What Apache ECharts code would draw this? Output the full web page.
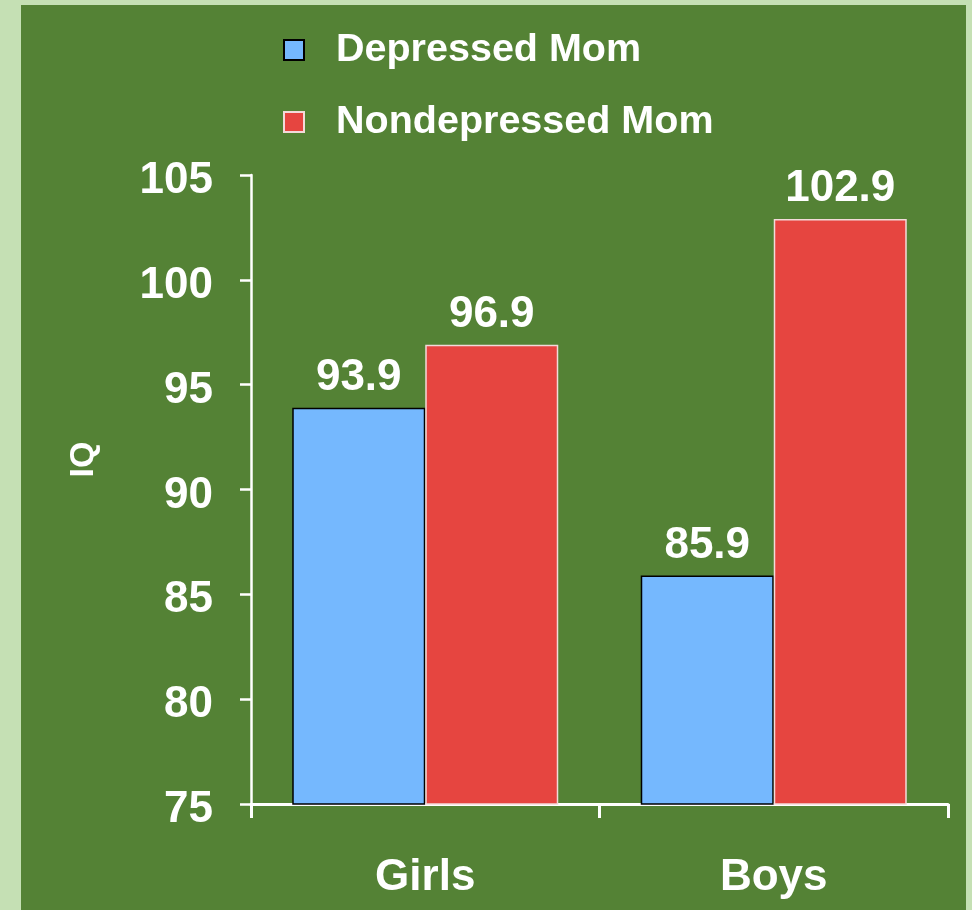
<!DOCTYPE html>
<html>
<head>
<meta charset="utf-8">
<script src="https://cdn.jsdelivr.net/npm/echarts@6/dist/echarts.min.js"></script>
<style>
  html, body { margin: 0; padding: 0; background: #c5e0b4; }
  #chart { position: absolute; left: 21px; top: 5px; width: 945px; height: 905px; }
</style>
</head>
<body>
<div id="chart"></div>
<script>
const categories = ['Girls', 'Boys'];
const depressed = [93.9, 85.9];
const nondepressed = [96.9, 102.9];
const seriesNames = ['Depressed Mom', 'Nondepressed Mom'];

const font = 'Liberation Sans, Arial, sans-serif';

const legendText = { color: '#fff', fontSize: 39.5, fontWeight: 'bold', padding: [0, 0, 0, 27] };

const myChart = echarts.init(document.getElementById('chart'));
const option = {
  backgroundColor: '#548235',
  animation: false,
  textStyle: { fontFamily: font },
  legend: [
    {
      data: [seriesNames[0]],
      left: 262, top: 25, padding: 0,
      itemWidth: 20, itemHeight: 20, itemGap: 0,
      icon: 'rect',
      textStyle: legendText
    },
    {
      data: [seriesNames[1]],
      left: 262, top: 97, padding: 0,
      itemWidth: 20, itemHeight: 20, itemGap: 0,
      icon: 'rect',
      textStyle: legendText
    }
  ],
  grid: { left: 230, right: 18, top: 170, bottom: 106 },
  xAxis: {
    type: 'category',
    data: categories,
    axisLine: { lineStyle: { color: '#fff', width: 3 } },
    axisTick: { show: true, alignWithLabel: false, length: 14, lineStyle: { color: '#fff', width: 3 } },
    axisLabel: { color: '#fff', fontSize: 44, fontWeight: 'bold', margin: 52 }
  },
  yAxis: {
    type: 'value',
    min: 75, max: 105, interval: 5,
    name: 'IQ',
    nameLocation: 'middle',
    nameRotate: 90,
    nameGap: 150,
    nameTextStyle: { color: '#fff', fontSize: 34, fontWeight: 'bold', padding: [0, 0, 0, 60] },
    axisLine: { show: true, lineStyle: { color: '#fff', width: 2.5 } },
    axisTick: { show: true, length: 11, lineStyle: { color: '#fff', width: 2.5 } },
    splitLine: { show: false },
    axisLabel: {
      margin: 38,
      formatter: '{v|{value}}',
      rich: { v: { color: '#fff', fontSize: 44, fontWeight: 'bold', fontFamily: font, padding: [12, 0, 0, 0] } }
    }
  },
  series: [
    {
      name: seriesNames[0],
      type: 'bar',
      data: depressed,
      barWidth: 133,
      barGap: '0%',
      itemStyle: { color: '#75b8fe', borderColor: '#000', borderWidth: 1.5 },
      label: { show: true, position: 'top', distance: 8, color: '#fff', fontSize: 44, fontWeight: 'bold', formatter: p => p.value.toFixed(1) }
    },
    {
      name: seriesNames[1],
      type: 'bar',
      data: nondepressed,
      barWidth: 133,
      barGap: '0%',
      itemStyle: { color: '#e64540', borderColor: '#f3dada', borderWidth: 1.5 },
      label: { show: true, position: 'top', distance: 8, color: '#fff', fontSize: 44, fontWeight: 'bold', formatter: p => p.value.toFixed(1) }
    }
  ]
};
myChart.setOption(option);

window.addEventListener('resize', function () {
  myChart.resize();
}, false);
</script>
</body>
</html>
